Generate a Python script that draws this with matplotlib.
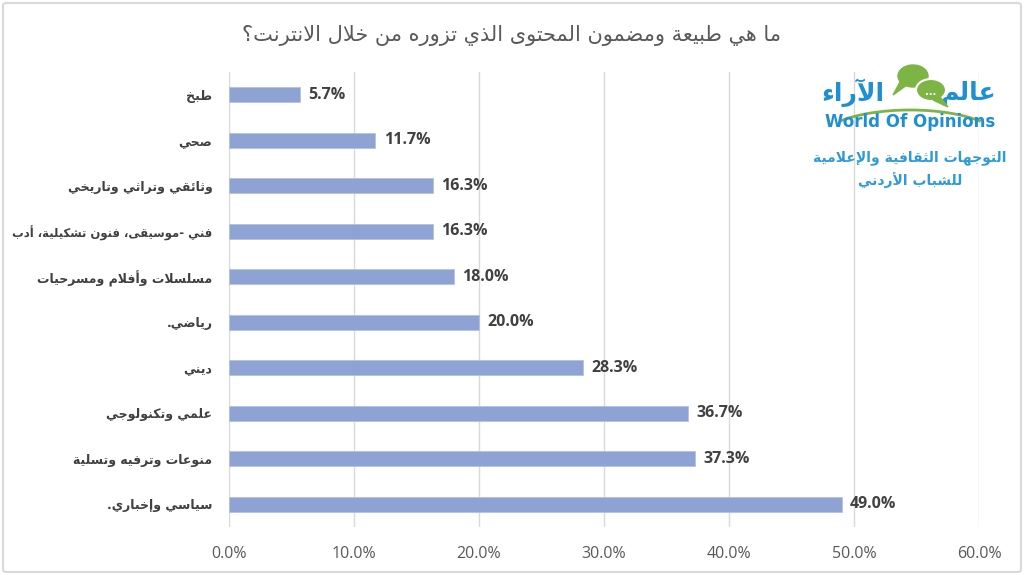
import unicodedata
import matplotlib
matplotlib.use("Agg")
import matplotlib.pyplot as plt
from matplotlib.patches import Ellipse, Arc, FancyBboxPatch, Polygon

# ---------------- data ----------------
categories = ["طبخ", "صحي", "وثائقي وتراثي وتاريخي", "فني -موسيقى، فنون تشكيلية، أدب",
              "مسلسلات وأفلام ومسرحيات", "رياضي.", "ديني", "علمي وتكنولوجي",
              "منوعات وترفيه وتسلية", "سياسي وإخباري."]
values = [5.7, 11.7, 16.3, 16.3, 18.0, 20.0, 28.3, 36.7, 37.3, 49.0]
xticks = [0, 10, 20, 30, 40, 50, 60]
title = "ما هي طبيعة ومضمون المحتوى الذي تزوره من خلال الانترنت؟"
logo_ar1 = "عالم"
logo_ar2 = "الآراء"
logo_en = "World Of Opinions"
sub1 = "التوجهات الثقافية والإعلامية"
sub2 = "للشباب الأردني"

# ---------------- minimal Arabic shaping ----------------
FORMS = {}
LIG = {}
for cp in range(0xFE70, 0xFF00):
    ch = chr(cp)
    d = unicodedata.decomposition(ch)
    if not d:
        continue
    parts = d.split()
    tag = parts[0]
    if tag not in ("<isolated>", "<final>", "<initial>", "<medial>"):
        continue
    if len(parts) == 2:
        FORMS.setdefault(chr(int(parts[1], 16)), {})[tag[1:-1]] = ch
    elif len(parts) == 3 and parts[1] == "0644":
        LIG.setdefault(chr(int(parts[2], 16)), {})[tag[1:-1]] = ch


def jtype(c):
    if c is None:
        return "U"
    if unicodedata.category(c) == "Mn":
        return "T"
    f = FORMS.get(c)
    if not f:
        return "U"
    if "initial" in f or "medial" in f:
        return "D"
    if "final" in f:
        return "R"
    return "U"


def shape(text):
    chars = [c for c in text if unicodedata.category(c) != "Mn"]
    out = []
    i = 0
    n = len(chars)
    while i < n:
        c = chars[i]
        prev = chars[i - 1] if i > 0 else None
        joins_prev = jtype(prev) == "D" and jtype(c) in ("D", "R")
        if c == "\u0644" and i + 1 < n and chars[i + 1] in LIG:
            lf = LIG[chars[i + 1]]
            out.append(lf["final"] if joins_prev else lf["isolated"])
            i += 2
            continue
        nxt = chars[i + 1] if i + 1 < n else None
        joins_next = jtype(c) == "D" and jtype(nxt) in ("D", "R")
        f = FORMS.get(c)
        if f:
            if joins_prev and joins_next and "medial" in f:
                out.append(f["medial"])
            elif joins_prev and "final" in f:
                out.append(f["final"])
            elif joins_next and "initial" in f:
                out.append(f["initial"])
            else:
                out.append(f.get("isolated", c))
        else:
            out.append(c)
        i += 1
    return "".join(reversed(out))


# ---------------- figure ----------------
W, H = 1024, 575
fig = plt.figure(figsize=(W / 100, H / 100), dpi=100)
fig.patch.set_facecolor("white")

# outer frame
fig.add_artist(FancyBboxPatch((3 / W, 3 / H), (W - 6) / W, (H - 6) / H,
                              boxstyle="round,pad=0,rounding_size=0.004",
                              transform=fig.transFigure, fill=False,
                              edgecolor="#D9D9D9", linewidth=1.5))

ax_left, ax_right = 229 / W, 979 / W
ax_top, ax_bot = 1 - 72 / H, 1 - 527 / H
ax = fig.add_axes([ax_left, ax_bot, ax_right - ax_left, ax_top - ax_bot])

n = len(categories)
ypos = list(range(n))
ax.barh(ypos, values, height=0.34, color="#8FA2D4", edgecolor="#B4C1E3",
        linewidth=0.6, zorder=3)
ax.set_ylim(n - 0.5, -0.5)
ax.set_xlim(0, 60)
ax.set_xticks(xticks)
ax.set_xticklabels([f"{t:.1f}%" for t in xticks], fontsize=11.5,
                   color="#595959", family="Open Sans")
ax.tick_params(axis="x", length=0, pad=14)
ax.tick_params(axis="y", length=0, pad=12)
ax.set_yticks(ypos)
ax.set_yticklabels([shape(c) for c in categories], fontsize=9,
                   fontweight="bold", color="#404040", family="DejaVu Sans")
ax.grid(axis="x", color="#D9D9D9", linewidth=1, zorder=0)
for s in ax.spines.values():
    s.set_visible(False)

# shrink any category label that would not fit in the left margin
fig.canvas.draw()
renderer = fig.canvas.get_renderer()
max_w = 200
for lab in ax.get_yticklabels():
    w = lab.get_window_extent(renderer).width
    if w > max_w:
        lab.set_fontsize(lab.get_fontsize() * max_w / w)

for y, v in zip(ypos, values):
    ax.annotate(f"{v:.1f}%", (v, y), xytext=(6, 0), textcoords="offset points",
                va="center", ha="left", fontsize=11.5, fontweight="bold",
                color="#404040", family="Open Sans")

# title
fig.text(512 / W, 1 - 36 / H, shape(title), ha="center", va="center",
         fontsize=15, color="#595959", family="DejaVu Sans")

# ---------------- logo ----------------
blue = "#1F8FD3"
green = "#7DB544"
fig.text(996 / W, 1 - 93 / H, shape(logo_ar1), ha="right", va="center",
         fontsize=18, fontweight="bold", color=blue, family="DejaVu Sans")
fig.text(885 / W, 1 - 93 / H, shape(logo_ar2), ha="right", va="center",
         fontsize=18, fontweight="bold", color=blue, family="DejaVu Sans")
# speech bubbles
fig.add_artist(Ellipse((913 / W, 1 - 76 / H), 30 / W, 22 / H, transform=fig.transFigure,
                       color=green, zorder=5))
fig.add_artist(Polygon([(900 / W, 1 - 82 / H), (893 / W, 1 - 95 / H), (907 / W, 1 - 85 / H)],
                       closed=True, transform=fig.transFigure, color=green, zorder=5))
fig.add_artist(Ellipse((931 / W, 1 - 90 / H), 30 / W, 22 / H, transform=fig.transFigure,
                       facecolor=green, zorder=6, edgecolor="white", lw=1.5))
fig.add_artist(Polygon([(940 / W, 1 - 97 / H), (948 / W, 1 - 107 / H), (933 / W, 1 - 100 / H)],
                       closed=True, transform=fig.transFigure, color=green, zorder=6))
fig.text(931 / W, 1 - 92 / H, "...", ha="center", va="center", fontsize=7,
         fontweight="bold", color="white", zorder=7)
fig.add_artist(Arc((910 / W, 1 - 140 / H), 180 / W, 60 / H, theta1=25, theta2=155,
                   transform=fig.transFigure, color=green, lw=2))
fig.text(910 / W, 1 - 122 / H, logo_en, ha="center", va="center", fontsize=12,
         fontweight="bold", color=blue, family="DejaVu Sans")
fig.text(910 / W, 1 - 158 / H, shape(sub1), ha="center", va="center",
         fontsize=10, fontweight="bold", color="#2E9AD8", family="DejaVu Sans")
fig.text(910 / W, 1 - 181 / H, shape(sub2), ha="center", va="center",
         fontsize=10, fontweight="bold", color="#2E9AD8", family="DejaVu Sans")

fig.savefig("out.png", dpi=100, facecolor="white")
